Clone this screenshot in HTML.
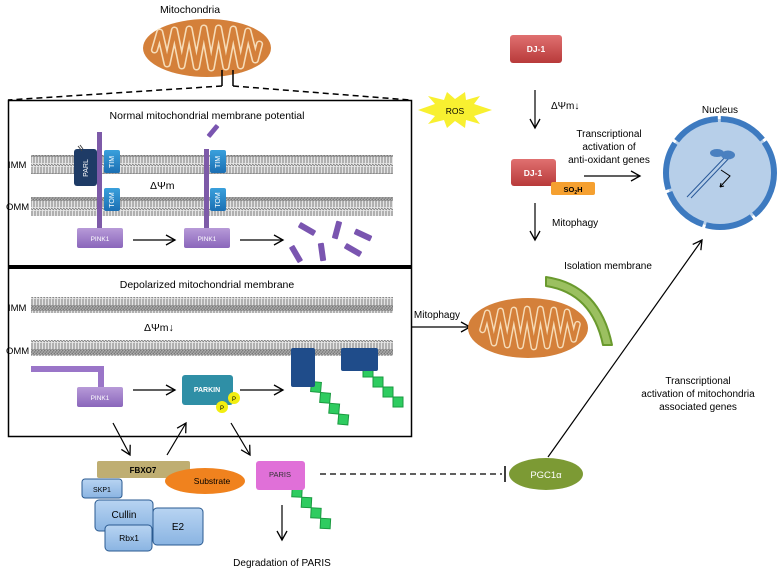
<!DOCTYPE html>
<html><head><meta charset="utf-8"><style>
html,body{margin:0;padding:0;background:#fff}
svg{display:block}
text{font-family:"Liberation Sans","DejaVu Sans",sans-serif}
</style></head><body>
<svg width="778" height="570" viewBox="0 0 778 570" xmlns="http://www.w3.org/2000/svg">
<defs>
<pattern id="mem" width="3" height="22" patternUnits="userSpaceOnUse">
<rect width="3" height="22" fill="#e4e4e4"/>
<path d="M1,0 L1,9 M2,13 L2,22 M0,10 L3,12" stroke="#707070" stroke-width="0.9" fill="none"/>
<circle cx="1.5" cy="1.5" r="1.2" fill="none" stroke="#777" stroke-width="0.7"/>
<circle cx="1.5" cy="20.5" r="1.2" fill="none" stroke="#777" stroke-width="0.7"/>
</pattern>
<marker id="ar" markerWidth="12" markerHeight="12" refX="10" refY="6" orient="auto" markerUnits="userSpaceOnUse">
<path d="M1,1 L10,6 L1,11" fill="none" stroke="#000" stroke-width="1.3"/>
</marker>
<linearGradient id="pur" x1="0" y1="0" x2="0" y2="1"><stop offset="0" stop-color="#b79ad8"/><stop offset="1" stop-color="#8a66bb"/></linearGradient>
<linearGradient id="blu" x1="0" y1="0" x2="0" y2="1"><stop offset="0" stop-color="#3aa0dc"/><stop offset="1" stop-color="#1b6fb3"/></linearGradient>
<linearGradient id="red" x1="0" y1="0" x2="0" y2="1"><stop offset="0" stop-color="#e07070"/><stop offset="1" stop-color="#b83a3a"/></linearGradient>
<linearGradient id="lb" x1="0" y1="0" x2="0" y2="1"><stop offset="0" stop-color="#b8d4f2"/><stop offset="1" stop-color="#8ab4e2"/></linearGradient>
<g id="cristae">
<polyline points="-50,2 -45,-16 -38,16 -31,-18 -24,18 -17,-19 -10,19 -3,-20 4,20 11,-20 18,19 25,-19 32,18 39,-17 46,12 50,-4" fill="none" stroke="#f6dcb8" stroke-width="7" stroke-linejoin="round" stroke-linecap="round"/>
<polyline points="-50,2 -45,-16 -38,16 -31,-18 -24,18 -17,-19 -10,19 -3,-20 4,20 11,-20 18,19 25,-19 32,18 39,-17 46,12 50,-4" fill="none" stroke="#d4803a" stroke-width="4" stroke-linejoin="round" stroke-linecap="round"/>
</g>
<g id="chain">
<rect x="-5" y="-5" width="10" height="10" fill="#2ecc60" stroke="#1a9a40" stroke-width="1"/>
<rect x="5" y="5" width="10" height="10" fill="#2ecc60" stroke="#1a9a40" stroke-width="1"/>
<rect x="15" y="15" width="10" height="10" fill="#2ecc60" stroke="#1a9a40" stroke-width="1"/>
<rect x="25" y="25" width="10" height="10" fill="#2ecc60" stroke="#1a9a40" stroke-width="1"/>
</g>
<rect id="frag" x="-3" y="-9" width="6" height="18" rx="1" fill="#7a55b0"/>
</defs>

<!-- top mitochondrion -->
<text x="190" y="13" font-size="10.5" text-anchor="middle">Mitochondria</text>
<ellipse cx="207" cy="48" rx="64" ry="29" fill="#d4803a"/>
<use href="#cristae" transform="translate(207,48) scale(1.05,1)"/>
<path d="M222,70 L222,86 M233,70 L233,86" stroke="#000" stroke-width="1.5"/>
<path d="M222,86 L8,100 M233,86 L410,100" stroke="#000" stroke-width="1.5" stroke-dasharray="6,4"/>

<!-- boxes -->
<rect x="8.5" y="100.5" width="403" height="336" fill="none" stroke="#000" stroke-width="1.5"/>
<rect x="8" y="265" width="404" height="4" fill="#000"/>

<text x="207" y="119" font-size="10.5" text-anchor="middle">Normal mitochondrial membrane potential</text>
<rect x="31" y="155" width="362" height="19" fill="url(#mem)"/>
<rect x="31" y="197" width="362" height="19" fill="url(#mem)"/>
<text x="8" y="168" font-size="9.5">IMM</text>
<text x="6" y="210" font-size="9.5">OMM</text>
<text x="150" y="189" font-size="10.5">ΔΨm</text>
<rect x="74" y="149" width="23" height="37" rx="3" fill="#1e3b66"/>
<text x="88" y="168" font-size="7" fill="#fff" text-anchor="middle" transform="rotate(-90 88 168)">PARL</text>
<path d="M78,146 l4,5 M80,145 l3,4" stroke="#444" stroke-width="1"/>
<rect x="97" y="132" width="5" height="96" fill="#7d5aa8"/>
<rect x="104" y="150" width="16" height="23" rx="2" fill="url(#blu)"/>
<text x="112" y="162" font-size="7" fill="#fff" text-anchor="middle" dominant-baseline="middle" transform="rotate(-90 112 162)">TIM</text>
<rect x="104" y="188" width="16" height="23" rx="2" fill="url(#blu)"/>
<text x="112" y="200" font-size="7" fill="#fff" text-anchor="middle" dominant-baseline="middle" transform="rotate(-90 112 200)">TOM</text>
<rect x="77" y="228" width="46" height="20" rx="2" fill="url(#pur)"/>
<text x="100" y="241" font-size="6.5" fill="#fff" text-anchor="middle">PINK1</text>
<line x1="133" y1="240" x2="175" y2="240" stroke="#000" stroke-width="1.2" marker-end="url(#ar)"/>
<rect x="204" y="149" width="5" height="79" fill="#7d5aa8"/>
<rect x="210" y="150" width="16" height="23" rx="2" fill="url(#blu)"/>
<text x="218" y="162" font-size="7" fill="#fff" text-anchor="middle" dominant-baseline="middle" transform="rotate(-90 218 162)">TIM</text>
<rect x="210" y="188" width="16" height="23" rx="2" fill="url(#blu)"/>
<text x="218" y="200" font-size="7" fill="#fff" text-anchor="middle" dominant-baseline="middle" transform="rotate(-90 218 200)">TOM</text>
<rect x="184" y="228" width="46" height="20" rx="2" fill="url(#pur)"/>
<text x="207" y="241" font-size="6.5" fill="#fff" text-anchor="middle">PINK1</text>
<use href="#frag" transform="translate(213,131) rotate(40) scale(0.8)"/>
<line x1="240" y1="240" x2="283" y2="240" stroke="#000" stroke-width="1.2" marker-end="url(#ar)"/>
<use href="#frag" transform="translate(307,229) rotate(-60)"/>
<use href="#frag" transform="translate(337,230) rotate(15)"/>
<use href="#frag" transform="translate(363,235) rotate(-65)"/>
<use href="#frag" transform="translate(296,254) rotate(-30)"/>
<use href="#frag" transform="translate(322,252) rotate(-8)"/>
<use href="#frag" transform="translate(353,250) rotate(-60)"/>

<!-- depolarized -->
<text x="207" y="288" font-size="10.5" text-anchor="middle">Depolarized mitochondrial membrane</text>
<rect x="31" y="297" width="362" height="16" fill="url(#mem)"/>
<rect x="31" y="340" width="362" height="16" fill="url(#mem)"/>
<text x="8" y="311" font-size="9.5">IMM</text>
<text x="6" y="354" font-size="9.5">OMM</text>
<text x="144" y="331" font-size="10.5">ΔΨm↓</text>
<path d="M31,366 L104,366 L104,390 L98,390 L98,372 L31,372 Z" fill="#9a75c8"/>
<rect x="77" y="387" width="46" height="20" rx="2" fill="url(#pur)"/>
<text x="100" y="400" font-size="6.5" fill="#fff" text-anchor="middle">PINK1</text>
<line x1="133" y1="390" x2="175" y2="390" stroke="#000" stroke-width="1.2" marker-end="url(#ar)"/>
<rect x="182" y="375" width="51" height="30" rx="3" fill="#2f8fa6"/>
<text x="207" y="392" font-size="7" fill="#fff" text-anchor="middle" font-weight="bold">PARKIN</text>
<circle cx="222" cy="407" r="6" fill="#f2ee10"/><text x="222" y="410" font-size="6" text-anchor="middle">P</text>
<circle cx="234" cy="398" r="6" fill="#f2ee10"/><text x="234" y="401" font-size="6" text-anchor="middle">P</text>
<line x1="240" y1="390" x2="283" y2="390" stroke="#000" stroke-width="1.2" marker-end="url(#ar)"/>
<use href="#chain" transform="translate(316,387) rotate(5)"/>
<rect x="291" y="348" width="24" height="39" rx="2" fill="#1f4c8a"/>
<use href="#chain" transform="translate(368,372) rotate(0)"/>
<rect x="341" y="348" width="37" height="23" rx="2" fill="#1f4c8a"/>
<line x1="412" y1="327" x2="470" y2="327" stroke="#000" stroke-width="1.2" marker-end="url(#ar)"/>
<text x="437" y="318" font-size="10" text-anchor="middle">Mitophagy</text>

<!-- lower left complex -->
<line x1="113" y1="423" x2="130" y2="455" stroke="#000" stroke-width="1.2" marker-end="url(#ar)"/>
<line x1="167" y1="455" x2="186" y2="423" stroke="#000" stroke-width="1.2" marker-end="url(#ar)"/>
<line x1="231" y1="423" x2="250" y2="455" stroke="#000" stroke-width="1.2" marker-end="url(#ar)"/>
<rect x="97" y="461" width="93" height="17" rx="2" fill="#bfae72"/>
<text x="143" y="473" font-size="8" text-anchor="middle" font-weight="bold">FBXO7</text>
<ellipse cx="205" cy="481" rx="40" ry="13" fill="#f0821e"/>
<text x="212" y="484" font-size="8.5" text-anchor="middle">Substrate</text>
<rect x="82" y="479" width="40" height="19" rx="3" fill="url(#lb)" stroke="#2a5a90"/>
<text x="102" y="492" font-size="7" text-anchor="middle">SKP1</text>
<rect x="95" y="500" width="58" height="31" rx="4" fill="url(#lb)" stroke="#2a5a90"/>
<text x="124" y="518" font-size="10" text-anchor="middle">Cullin</text>
<rect x="153" y="508" width="50" height="37" rx="4" fill="url(#lb)" stroke="#2a5a90"/>
<text x="178" y="530" font-size="10" text-anchor="middle">E2</text>
<rect x="105" y="525" width="47" height="26" rx="4" fill="url(#lb)" stroke="#2a5a90"/>
<text x="129" y="541" font-size="8.5" text-anchor="middle">Rbx1</text>

<!-- PARIS -->
<use href="#chain" transform="translate(297,492) rotate(3)"/>
<rect x="256" y="461" width="49" height="29" rx="3" fill="#e070d8"/>
<text x="280" y="477" font-size="7.5" text-anchor="middle" fill="#333">PARIS</text>
<line x1="282" y1="505" x2="282" y2="540" stroke="#000" stroke-width="1.2" marker-end="url(#ar)"/>
<text x="282" y="566" font-size="10" text-anchor="middle">Degradation of PARIS</text>
<line x1="320" y1="474" x2="502" y2="474" stroke="#000" stroke-width="1.2" stroke-dasharray="6,4"/>
<line x1="505" y1="466" x2="505" y2="482" stroke="#000" stroke-width="1.5"/>
<ellipse cx="546" cy="474" rx="37" ry="16" fill="#7c9a34"/>
<text x="546" y="478" font-size="9.5" fill="#fff" text-anchor="middle">PGC1α</text>
<line x1="548" y1="457" x2="702" y2="240" stroke="#000" stroke-width="1.2" marker-end="url(#ar)"/>
<text x="698" y="384" font-size="10" text-anchor="middle">Transcriptional</text>
<text x="698" y="397" font-size="10" text-anchor="middle">activation of mitochondria</text>
<text x="698" y="410" font-size="10" text-anchor="middle">associated genes</text>

<!-- DJ-1 pathway -->
<rect x="510" y="35" width="52" height="28" rx="3" fill="url(#red)"/>
<text x="536" y="52" font-size="8.5" fill="#fff" text-anchor="middle" font-weight="bold">DJ-1</text>
<polygon points="418,110 435,104 428,96 444,100 447,92 455,99 465,92 466,100 480,96 474,104 492,110 474,116 480,124 466,120 465,128 455,121 447,128 444,120 428,124 435,116" fill="#f8f030"/>
<text x="455" y="114" font-size="8.5" text-anchor="middle">ROS</text>
<line x1="535" y1="90" x2="535" y2="128" stroke="#000" stroke-width="1.2" marker-end="url(#ar)"/>
<text x="551" y="109" font-size="10">ΔΨm↓</text>
<rect x="511" y="159" width="45" height="27" rx="3" fill="url(#red)"/>
<text x="533" y="176" font-size="8.5" fill="#fff" text-anchor="middle" font-weight="bold">DJ-1</text>
<rect x="551" y="182" width="44" height="13" rx="2" fill="#f5a030"/>
<text x="573" y="192" font-size="7.5" text-anchor="middle" font-weight="bold">SO<tspan font-size="5" dy="2">2</tspan><tspan dy="-2">H</tspan></text>
<text x="609" y="137" font-size="10" text-anchor="middle">Transcriptional</text>
<text x="609" y="150" font-size="10" text-anchor="middle">activation of</text>
<text x="609" y="163" font-size="10" text-anchor="middle">anti-oxidant genes</text>
<line x1="584" y1="176" x2="640" y2="176" stroke="#000" stroke-width="1.2" marker-end="url(#ar)"/>
<line x1="535" y1="203" x2="535" y2="240" stroke="#000" stroke-width="1.2" marker-end="url(#ar)"/>
<text x="552" y="226" font-size="10">Mitophagy</text>
<text x="608" y="269" font-size="10" text-anchor="middle">Isolation membrane</text>

<!-- lower mito -->
<ellipse cx="528" cy="328" rx="60" ry="30" fill="#d4803a"/>
<use href="#cristae" transform="translate(530,328) scale(0.95,0.95)"/>
<path d="M546,277 Q600,285 612,345 L603,345 Q592,293 546,286 Z" fill="#9bc060" stroke="#6a9a2e" stroke-width="2" stroke-linejoin="round"/>

<!-- nucleus -->
<text x="720" y="113" font-size="10" text-anchor="middle">Nucleus</text>
<circle cx="720" cy="173" r="54" fill="#b7cfe9"/>
<circle cx="720" cy="173" r="54" fill="none" stroke="#3d7ac0" stroke-width="6" stroke-dasharray="48,3"/>
<path d="M687,197 L729,153 M691,198 L733,154" stroke="#2a5a9a" stroke-width="1"/>
<ellipse cx="717" cy="153" rx="7" ry="4" fill="#4a80c0"/>
<ellipse cx="728" cy="155" rx="7" ry="4.5" fill="#4a80c0"/>
<path d="M721,170 L730,176 L720,187" fill="none" stroke="#000" stroke-width="1"/>
<path d="M720,187 l1,-4 M720,187 l4,-1" stroke="#000" stroke-width="1"/>
</svg>
</body></html>
